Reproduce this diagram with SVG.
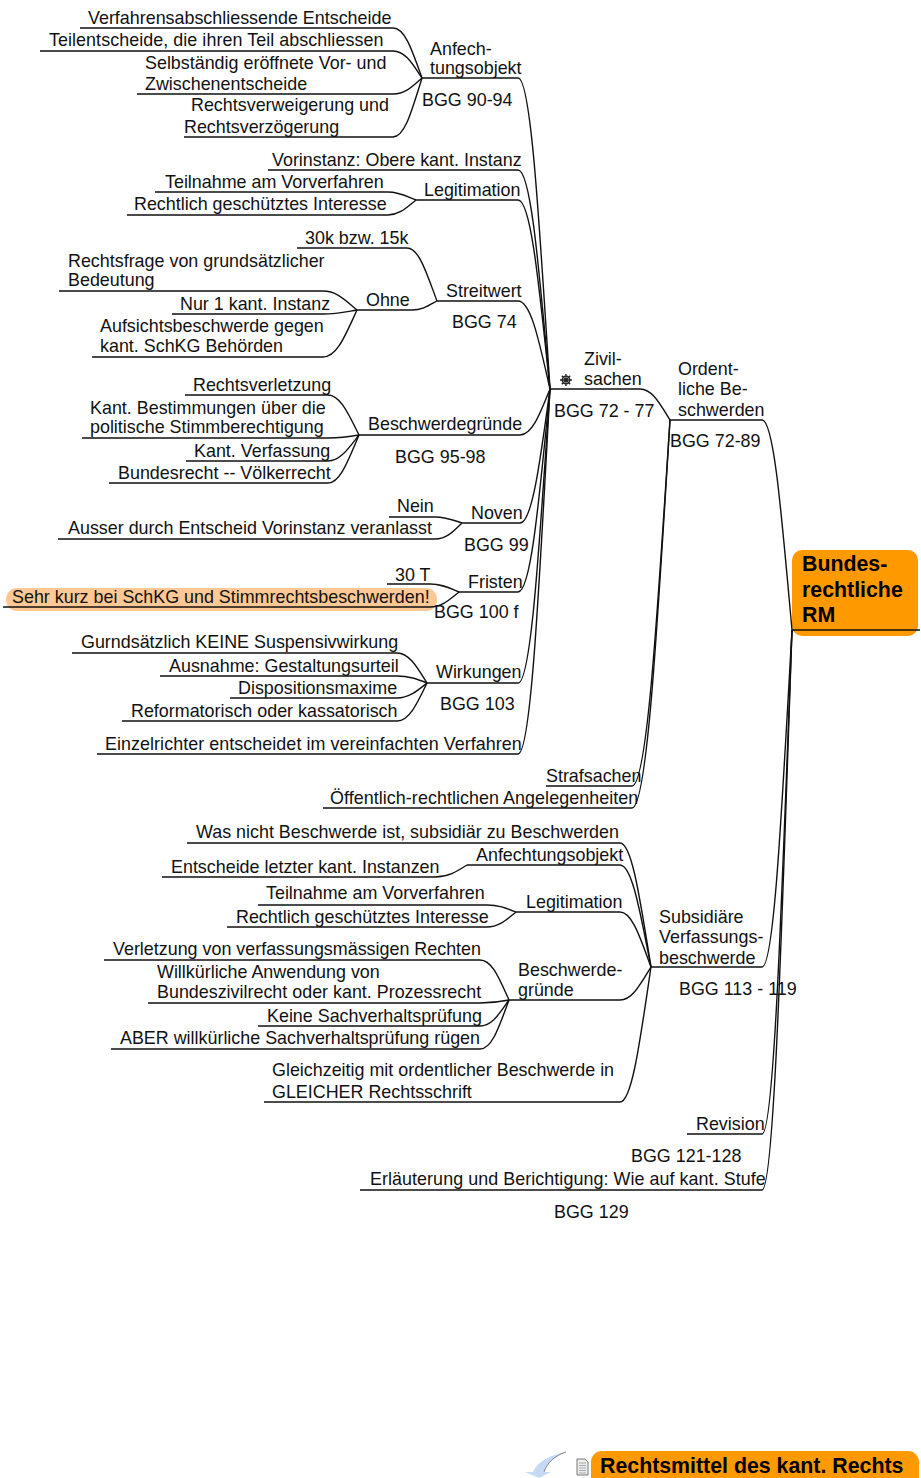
<svg xmlns="http://www.w3.org/2000/svg" width="921" height="1478" viewBox="0 0 921 1478">
<style>
text{font-family:"Liberation Sans",Arial,sans-serif;font-size:17.9px;fill:#111}
.b{font-weight:bold;font-size:21.33px;fill:#000}
.c{fill:none;stroke:#111;stroke-width:1.4}
.w{letter-spacing:.06px}
</style>
<rect width="921" height="1478" fill="#fff"/>
<g id="root"><rect x="792" y="550" width="126" height="86" rx="10" fill="#ff9900"/>
<text class="b" x="802" y="571">Bundes-</text><text class="b" x="802" y="597">rechtliche</text><text class="b" x="802" y="622">RM</text></g>
<g id="sehr-kurz"><rect x="6" y="588" width="431" height="23" rx="11" fill="#ffc894"/>
<text x="12" y="603">Sehr kurz bei SchKG und Stimmrechtsbeschwerden!</text></g>
<g id="connectors" class="c">
<path class="c" d="M792 630H920"/>
<path class="c" d="M670 420H762c12 0 19.500 94.500 30 210"/>
<path class="c" d="M651 967H762c12 0 19.500 -152 30 -337"/>
<path class="c" d="M687 1134H762c12 0 19.500 -227 30 -504"/>
<path class="c" d="M360 1190H762c12 0 19.500 -252 30 -560"/>
<path class="c" d="M550 389H640c12 0 19.500 14 30 31"/>
<path class="c" d="M546 786H632c15 0 25 -165 38 -366"/>
<path class="c" d="M323 808H632c15 0 25 -175 38 -388"/>
<path class="c" d="M422 78H518c13 0 21 140 32 311"/>
<path class="c" d="M268 170H518c13 0 21 99 32 219"/>
<path class="c" d="M416 200H518c13 0 21 85 32 189"/>
<path class="c" d="M437 301H518c13 0 21 40 32 88"/>
<path class="c" d="M359 435H520c12 0 20 -21 30 -46"/>
<path class="c" d="M462 523H520c12 0 20 -60 30 -134"/>
<path class="c" d="M459 592H518c13 0 21 -91 32 -203"/>
<path class="c" d="M427 683H518c13 0 21 -132 32 -294"/>
<path class="c" d="M97 754H518c13 0 21 -164 32 -365"/>
<path class="c" d="M80 28H393c12 0 19 22 29 50"/>
<path class="c" d="M40 51H393c12 0 19 12 29 27"/>
<path class="c" d="M137 94H393c12 0 19 -7 29 -16"/>
<path class="c" d="M184 137H393c12 0 19 -27 29 -59"/>
<path class="c" d="M155 192H388c11 0 18 4 28 8"/>
<path class="c" d="M127 215H388c11 0 18 -7 28 -15"/>
<path class="c" d="M297 248H407c12 0 19 24 30 53"/>
<path class="c" d="M357 310H412c10 0 16 -4 25 -9"/>
<path class="c" d="M59 291H323c14 0 22 9 34 19"/>
<path class="c" d="M172 314H323c14 0 22 -2 34 -4"/>
<path class="c" d="M92 357H323c14 0 22 -21 34 -47"/>
<path class="c" d="M185 395H328c12 0 20 18 31 40"/>
<path class="c" d="M82 438H328c12 0 20 -1 31 -3"/>
<path class="c" d="M186 461H328c12 0 20 -12 31 -26"/>
<path class="c" d="M109 483H328c12 0 20 -22 31 -48"/>
<path class="c" d="M389 517H435c11 0 18 3 27 6"/>
<path class="c" d="M58 539H435c11 0 18 -7 27 -16"/>
<path class="c" d="M387 584H430c12 0 19 4 29 8"/>
<path class="c" d="M3 607H430c12 0 19 -7 29 -15"/>
<path class="c" d="M72 653H397c12 0 20 14 30 30"/>
<path class="c" d="M160 676H397c12 0 20 3 30 7"/>
<path class="c" d="M230 698H397c12 0 20 -7 30 -15"/>
<path class="c" d="M122 721H397c12 0 20 -17 30 -38"/>
<path class="c" d="M187 843H620c12 0 20 56 31 124"/>
<path class="c" d="M467 865H620c12 0 20 46 31 102"/>
<path class="c" d="M516 912H620c12 0 20 25 31 55"/>
<path class="c" d="M509 1000H620c12 0 20 -15 31 -33"/>
<path class="c" d="M264 1102H620c12 0 20 -61 31 -135"/>
<path class="c" d="M162 877H435c13 0 21 -5 32 -12"/>
<path class="c" d="M258 905H487c12 0 19 3 29 7"/>
<path class="c" d="M227 927H487c12 0 19 -7 29 -15"/>
<path class="c" d="M104 960H480c12 0 19 18 29 40"/>
<path class="c" d="M148 1003H480c12 0 19 -1 29 -3"/>
<path class="c" d="M258 1026H480c12 0 19 -12 29 -26"/>
<path class="c" d="M111 1049H480c12 0 19 -22 29 -49"/>
</g>
<g id="anfechtungsobjekt"><text x="430" y="55">Anfech-</text><text x="430" y="74">tungsobjekt</text><text x="422" y="106">BGG 90-94</text></g>
<g id="a1"><text x="88" y="24">Verfahrensabschliessende Entscheide</text></g>
<g id="a2"><text x="49" y="46" class="w">Teilentscheide, die ihren Teil abschliessen</text></g>
<g id="a3"><text x="145" y="69">Selbständig eröffnete Vor- und</text><text x="145" y="90">Zwischenentscheide</text></g>
<g id="a4"><text x="191" y="111">Rechtsverweigerung und</text><text x="184" y="133">Rechtsverzögerung</text></g>
<g id="vorinstanz"><text x="272" y="166">Vorinstanz: Obere kant. Instanz</text></g>
<g id="legitimation"><text x="424" y="196">Legitimation</text></g>
<g id="l1"><text x="165" y="188">Teilnahme am Vorverfahren</text></g>
<g id="l2"><text x="134" y="210">Rechtlich geschütztes Interesse</text></g>
<g id="streitwert"><text x="446" y="297">Streitwert</text><text x="452" y="328">BGG 74</text></g>
<g id="s1"><text x="305" y="244">30k bzw. 15k</text></g>
<g id="ohne"><text x="366" y="306">Ohne</text></g>
<g id="o1"><text x="68" y="267">Rechtsfrage von grundsätzlicher</text><text x="68" y="286">Bedeutung</text></g>
<g id="o2"><text x="180" y="310">Nur 1 kant. Instanz</text></g>
<g id="o3"><text x="100" y="332">Aufsichtsbeschwerde gegen</text><text x="100" y="352">kant. SchKG Behörden</text></g>
<g id="zivilsachen"><text x="584" y="365">Zivil-</text><text x="584" y="385">sachen</text><text x="554" y="417">BGG 72 - 77</text>
<g fill="none" stroke="#222" stroke-width="1.300"><circle cx="566" cy="380" r="3.800"/><path d="M566 374V386M560 380H572M561.800 375.800L570.200 384.200M570.200 375.800L561.800 384.200"/></g></g>
<g id="ordentliche"><text x="678" y="375">Ordent-</text><text x="678" y="395">liche Be-</text><text x="678" y="416">schwerden</text><text x="670" y="447">BGG 72-89</text></g>
<g id="beschwerdegruende"><text x="368" y="430">Beschwerdegründe</text><text x="395" y="463">BGG 95-98</text></g>
<g id="b1"><text x="193" y="391">Rechtsverletzung</text></g>
<g id="b2"><text x="90" y="414">Kant. Bestimmungen über die</text><text x="90" y="433">politische Stimmberechtigung</text></g>
<g id="b3"><text x="194" y="457">Kant. Verfassung</text></g>
<g id="b4"><text x="118" y="479">Bundesrecht -- Völkerrecht</text></g>
<g id="noven"><text x="471" y="519">Noven</text><text x="464" y="551">BGG 99</text></g>
<g id="n1"><text x="397" y="512">Nein</text></g>
<g id="n2"><text x="68" y="534">Ausser durch Entscheid Vorinstanz veranlasst</text></g>
<g id="fristen"><text x="468" y="588">Fristen</text><text x="434" y="618">BGG 100 f</text></g>
<g id="f1"><text x="395" y="581">30 T</text></g>
<g id="wirkungen"><text x="436" y="678">Wirkungen</text><text x="440" y="710">BGG 103</text></g>
<g id="w1"><text x="81" y="648">Gurndsätzlich KEINE Suspensivwirkung</text></g>
<g id="w2"><text x="169" y="672">Ausnahme: Gestaltungsurteil</text></g>
<g id="w3"><text x="238" y="694">Dispositionsmaxime</text></g>
<g id="w4"><text x="131" y="717">Reformatorisch oder kassatorisch</text></g>
<g id="einzelrichter"><text x="105" y="750" class="w">Einzelrichter entscheidet im vereinfachten Verfahren</text></g>
<g id="strafsachen"><text x="546" y="782">Strafsachen</text></g>
<g id="oeffentlich"><text x="330" y="804" class="w">Öffentlich-rechtlichen Angelegenheiten</text></g>
<g id="subsidiaere"><text x="659" y="923">Subsidiäre</text><text x="659" y="943">Verfassungs-</text><text x="659" y="964">beschwerde</text><text x="679" y="995">BGG 113 - 119</text></g>
<g id="v1"><text x="196" y="838">Was nicht Beschwerde ist, subsidiär zu Beschwerden</text></g>
<g id="v2"><text x="476" y="861">Anfechtungsobjekt</text></g>
<g id="v3"><text x="171" y="873">Entscheide letzter kant. Instanzen</text></g>
<g id="v4"><text x="526" y="908">Legitimation</text></g>
<g id="v5"><text x="266" y="899">Teilnahme am Vorverfahren</text></g>
<g id="v6"><text x="236" y="923">Rechtlich geschütztes Interesse</text></g>
<g id="v7"><text x="518" y="976">Beschwerde-</text><text x="518" y="996">gründe</text></g>
<g id="v8"><text x="113" y="955">Verletzung von verfassungsmässigen Rechten</text></g>
<g id="v9"><text x="157" y="978">Willkürliche Anwendung von</text><text x="157" y="998">Bundeszivilrecht oder kant. Prozessrecht</text></g>
<g id="v10"><text x="267" y="1022">Keine Sachverhaltsprüfung</text></g>
<g id="v11"><text x="120" y="1044">ABER willkürliche Sachverhaltsprüfung rügen</text></g>
<g id="v12"><text x="272" y="1076">Gleichzeitig mit ordentlicher Beschwerde in</text><text x="272" y="1098">GLEICHER Rechtsschrift</text></g>
<g id="revision"><text x="696" y="1130">Revision</text><text x="631" y="1162">BGG 121-128</text></g>
<g id="erlaeuterung"><text x="370" y="1185" class="w">Erläuterung und Berichtigung: Wie auf kant. Stufe</text><text x="554" y="1218">BGG 129</text></g>
<g id="kant-rm"><rect x="591" y="1451" width="328" height="40" rx="11" fill="#ff9900"/>
<text class="b" x="600" y="1473">Rechtsmittel des kant. Rechts</text>
<path d="M566 1452C550 1455 537 1462 533 1472L525 1472L539 1478L551 1472L544 1472C548 1463 555 1456 566 1452Z" fill="#c5d9f4"/>
<path d="M566 1452C554 1456 547 1463 544 1472" fill="none" stroke="#888" stroke-width="1"/>
<path d="M577 1459H585L588 1462V1475H577Z" fill="#eee" stroke="#555" stroke-width=".8"/>
<path d="M579 1463H586M579 1465.500H586M579 1468H586M579 1470.500H586M579 1473H586" stroke="#888" stroke-width=".7"/></g>
</svg>
